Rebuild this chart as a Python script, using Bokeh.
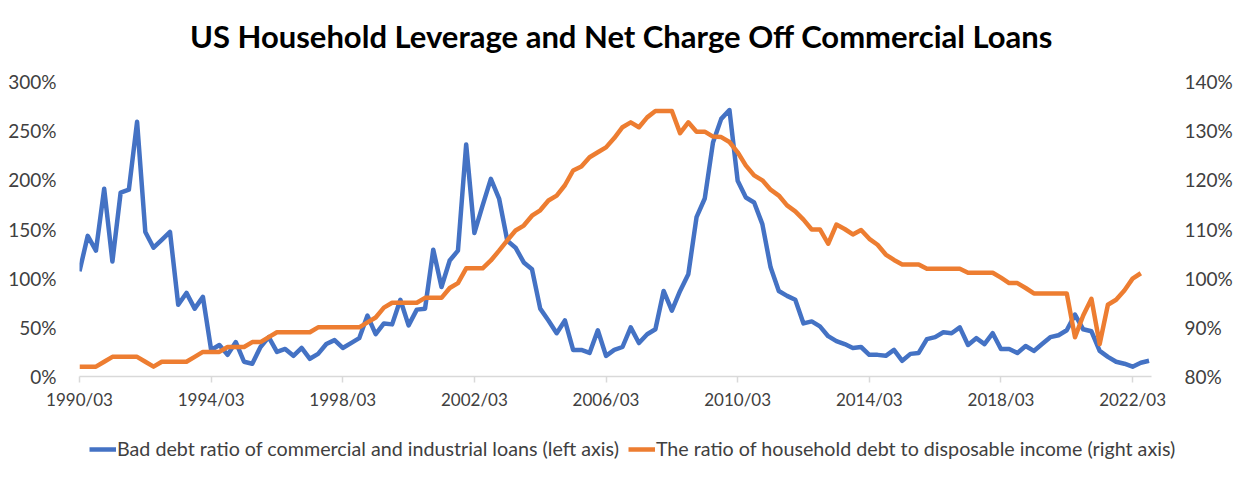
from bokeh.plotting import figure
from bokeh.models import Range1d, LinearAxis, Legend, LegendItem, FixedTicker, Label
from bokeh.layouts import column
from bokeh.embed import file_html
from bokeh.resources import INLINE

title_text = "US Household Leverage and Net Charge Off Commercial Loans"
blue_name = "Bad debt ratio of commercial and industrial loans (left axis)"
orange_name = "The ratio of household debt to disposable income (right axis)"

x_tick_pos = [0, 16, 32, 48, 64, 80, 96, 112, 128]
x_tick_labels = ["1990/03", "1994/03", "1998/03", "2002/03", "2006/03",
                 "2010/03", "2014/03", "2018/03", "2022/03"]
left_ticks = [0, 50, 100, 150, 200, 250, 300]
right_ticks = [80, 90, 100, 110, 120, 130, 140]

# Bad debt ratio (%), quarterly from 1990/03
bad_debt = [107, 143, 128, 191, 117, 187, 190, 259, 147, 131,
            139, 147, 73, 85, 69, 81, 27, 32, 22, 35,
            15, 13, 30, 40, 25, 28, 21, 29, 18, 23,
            33, 37, 29, 34, 39, 62, 43, 54, 53, 78,
            52, 68, 69, 129, 91, 118, 128, 236, 146, 174,
            201, 181, 138, 131, 116, 109, 69, 57, 44, 57,
            27, 27, 24, 47, 21, 27, 30, 50, 34, 43,
            48, 87, 67, 87, 104, 162, 181, 238, 262, 271,
            199, 182, 177, 155, 111, 87, 82, 78, 54, 56,
            51, 41, 36, 33, 29, 30, 22, 22, 21, 27,
            16, 23, 24, 38, 40, 45, 44, 50, 32, 39,
            33, 44, 28, 28, 24, 31, 26, 33, 40, 42,
            47, 63, 48, 46, 26, 20, 15, 13, 10, 14,
            16]

# Household debt / disposable income (%), quarterly from 1990/03
hh_debt = [82, 82, 82, 83, 84, 84, 84, 84, 83, 82,
           83, 83, 83, 83, 84, 85, 85, 85, 86, 86,
           86, 87, 87, 88, 89, 89, 89, 89, 89, 90,
           90, 90, 90, 90, 90, 91, 92, 94, 95, 95,
           95, 95, 96, 96, 96, 98, 99, 102, 102, 102,
           103.6, 105.6, 107.7, 109.7, 110.7, 112.7, 113.8, 115.8, 116.8, 118.9,
           121.9, 122.7, 124.6, 125.6, 126.6, 128.5, 130.7, 131.7, 130.7, 132.7,
           134, 134, 134, 129.5, 131.7, 129.8, 129.8, 128.8, 128.7, 127.7,
           125.6, 122.9, 120.9, 119.9, 118.0, 116.8, 114.8, 113.6, 111.9, 109.9,
           109.9, 107.0, 110.9, 110.0, 108.9, 109.8, 108.0, 106.8, 104.8, 103.7,
           102.8, 102.8, 102.8, 101.9, 101.9, 101.9, 101.9, 101.9, 101.1, 101.1,
           101.1, 101.1, 100.1, 99.0, 99.0, 98.0, 96.9, 96.9, 96.9, 96.9,
           96.9, 88.0, 92.4, 95.8, 86.6, 94.6, 95.6, 97.5, 99.9, 101.0]

BLUE = "#4472C4"
ORANGE = "#ED7D31"
TXT = "#404040"
FONT = "Lato"
W = 1235


def strip(h):
    f = figure(width=W, height=h, output_backend="svg", toolbar_location=None,
               x_range=Range1d(0, 1), y_range=Range1d(0, 1), min_border=0)
    f.axis.visible = False
    f.grid.visible = False
    f.outline_line_color = None
    if "frame_align" in f.properties():
        f.frame_align = False
    return f


# title strip
tf = strip(60)
tf.add_layout(Label(x=621, y=25, x_units="screen", y_units="screen",
                    text=title_text, text_align="center", text_baseline="middle",
                    text_font=FONT, text_font_style="bold", text_font_size="31px",
                    text_color="#000000"))

p = figure(width=W, height=365, output_backend="svg", toolbar_location=None,
           x_range=Range1d(0, 130.3), y_range=Range1d(0, 300),
           min_border_left=79, min_border_right=72, min_border_top=21,
           min_border_bottom=49)
if "frame_align" in p.properties():
    p.frame_align = False
p.extra_y_ranges = {"right": Range1d(80, 140)}
p.xgrid.visible = False
p.ygrid.visible = False
p.outline_line_color = None

xb = list(range(len(bad_debt)))
xh = list(range(len(hh_debt)))
r1 = p.line(xb, bad_debt, line_color=BLUE, line_width=4.5, line_join="round")
r2 = p.line(xh, hh_debt, line_color=ORANGE, line_width=4.5, line_join="round",
            y_range_name="right")

xa = p.xaxis[0]
xa.ticker = FixedTicker(ticks=x_tick_pos)
xa.major_label_overrides = dict(zip(x_tick_pos, x_tick_labels))
xa.axis_line_color = "#D9D9D9"
xa.axis_line_width = 1.5
xa.major_tick_line_color = "#D9D9D9"
xa.major_tick_line_width = 1.5
xa.major_tick_out = 6
xa.major_tick_in = 0
xa.minor_tick_line_color = None
xa.major_label_text_font = FONT
xa.major_label_text_font_size = "17px"
xa.major_label_text_color = TXT
xa.major_label_standoff = 6

ya = p.yaxis[0]
ya.ticker = FixedTicker(ticks=left_ticks)
ya.major_label_overrides = {t: f"{t}%" for t in left_ticks}
ya.axis_line_color = None
ya.major_tick_line_color = None
ya.minor_tick_line_color = None
ya.major_label_text_font = FONT
ya.major_label_text_font_size = "19px"
ya.major_label_text_color = TXT
ya.major_label_standoff = 17

ra = LinearAxis(y_range_name="right")
ra.ticker = FixedTicker(ticks=right_ticks)
ra.major_label_overrides = {t: f"{t}%" for t in right_ticks}
ra.axis_line_color = None
ra.major_tick_line_color = None
ra.minor_tick_line_color = None
ra.major_label_text_font = FONT
ra.major_label_text_font_size = "19px"
ra.major_label_text_color = TXT
ra.major_label_standoff = 27
p.add_layout(ra, "right")

# legend strip below the chart
lf = strip(46)
legend_x = 89 if "frame_align" in lf.properties() else 10
legend_font = "19.7px" if "frame_align" in lf.properties() else "19px"
l1 = lf.line(xb, bad_debt, line_color=BLUE, line_width=4.5, visible=False)
l2 = lf.line(xh, hh_debt, line_color=ORANGE, line_width=4.5, visible=False)
legend = Legend(items=[LegendItem(label=blue_name, renderers=[l1]),
                       LegendItem(label=orange_name, renderers=[l2])],
                orientation="horizontal", location=(legend_x, 11),
                border_line_color=None, background_fill_alpha=0,
                inactive_fill_alpha=0,
                label_text_font=FONT, label_text_font_size=legend_font,
                label_text_color=TXT, glyph_width=27, glyph_height=18,
                label_standoff=1, spacing=9, padding=0, margin=0)
lf.add_layout(legend, "center")

layout = column(tf, p, lf, spacing=0)
open("out.html", "w").write(file_html(layout, INLINE))
